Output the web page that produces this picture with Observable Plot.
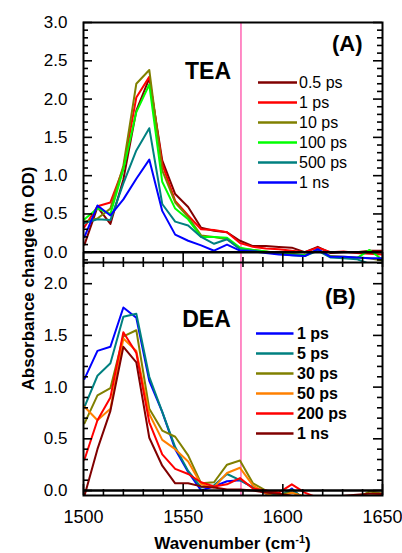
<!DOCTYPE html>
<html><head><meta charset="utf-8">
<script src="https://cdn.jsdelivr.net/npm/d3@7"></script>
<script src="https://cdn.jsdelivr.net/npm/@observablehq/plot@0.6"></script>
<style>
body{margin:0;background:#fff;font-family:"Liberation Sans",Arial,sans-serif;}
#wrap{position:relative;width:402px;height:553px;overflow:hidden;background:#fff;}
#wrap svg{position:absolute;left:0;}
.t{position:absolute;white-space:nowrap;color:#000;font-weight:bold;font-size:17px;line-height:17px;}
</style></head><body><div id="wrap"></div>
<script>
// ---- data ----
const wavenumber = [1500.5, 1507, 1513.5, 1520, 1526.5, 1533, 1539.5, 1546, 1552.5, 1559, 1565.5, 1572,
  1578.5, 1585, 1591.5, 1598, 1604.5, 1611, 1617.5, 1624, 1630.5, 1637, 1643.5, 1650];
const markerWavenumber = [1579];

// Panel A: TEA
const teaDelays = ["0.5 ps", "1 ps", "10 ps", "100 ps", "500 ps", "1 ns"];
const teaColors = ["#800000", "#ff0000", "#808000", "#00ff00", "#008080", "#0000ff"];
const tea_0_5ps = [0.10, 0.59, 0.37, 0.95, 1.85, 2.27, 1.20, 0.76, 0.59, 0.32, 0.28, 0.26, 0.15, 0.08, 0.08, 0.07, 0.06, 0.00, 0.07, -0.01, 0.00, 0.00, 0.02, 0.02];
const tea_1ps   = [0.33, 0.60, 0.65, 1.10, 2.02, 2.29, 1.15, 0.67, 0.48, 0.30, 0.29, 0.26, 0.12, 0.07, 0.05, 0.04, 0.02, 0.00, 0.06, 0.00, 0.01, -0.01, -0.02, -0.03];
const tea_10ps  = [0.40, 0.44, 0.57, 1.13, 2.20, 2.38, 1.07, 0.65, 0.46, 0.22, 0.20, 0.17, 0.05, 0.03, 0.01, -0.01, -0.02, -0.04, 0.03, -0.05, -0.06, -0.07, -0.08, -0.11];
const tea_100ps = [0.43, 0.57, 0.50, 1.08, 1.83, 2.19, 0.92, 0.57, 0.43, 0.20, 0.20, 0.19, 0.06, 0.03, 0.01, -0.02, -0.03, -0.04, 0.03, -0.06, -0.07, -0.08, 0.03, -0.10];
const tea_500ps = [0.38, 0.43, 0.42, 0.90, 1.33, 1.62, 0.63, 0.40, 0.35, 0.20, 0.11, 0.17, 0.04, 0.02, 0.00, -0.02, -0.04, -0.05, 0.02, -0.07, -0.08, -0.09, -0.15, -0.15];
const tea_1ns   = [0.20, 0.61, 0.48, 0.69, 0.96, 1.21, 0.54, 0.23, 0.15, 0.09, 0.02, 0.10, 0.02, 0.01, -0.01, -0.03, -0.04, -0.05, 0.04, -0.06, -0.06, -0.07, -0.08, -0.08];

// Panel B: DEA
const deaDelays = ["1 ps", "5 ps", "30 ps", "50 ps", "200 ps", "1 ns"];
const deaColors = ["#0000ff", "#008080", "#808000", "#ff8000", "#ff0000", "#800000"];
const dea_1ps   = [1.08, 1.35, 1.39, 1.77, 1.67, 1.06, 0.76, 0.40, 0.18, 0.00, 0.04, 0.09, 0.10, 0.03, -0.03, -0.07, 0.02, -0.10, -0.09, -0.09, -0.09, -0.08, -0.06, -0.05];
const dea_5ps   = [0.81, 1.11, 1.23, 1.68, 1.71, 1.10, 0.76, 0.42, 0.19, 0.03, 0.05, 0.16, 0.10, 0.03, -0.02, -0.05, 0.01, -0.08, -0.09, -0.09, -0.08, -0.07, -0.06, -0.08];
const dea_30ps  = [0.65, 0.92, 0.99, 1.49, 1.55, 0.79, 0.58, 0.52, 0.34, 0.07, 0.08, 0.25, 0.29, 0.07, 0.00, -0.04, -0.02, -0.06, -0.09, -0.07, -0.08, -0.07, -0.01, -0.03];
const dea_50ps  = [0.81, 0.68, 0.79, 1.47, 1.35, 0.74, 0.49, 0.40, 0.28, 0.06, 0.03, 0.17, 0.22, 0.05, -0.03, -0.07, -0.02, -0.06, -0.08, -0.07, -0.07, -0.06, -0.05, -0.04];
const dea_200ps = [0.30, 0.68, 0.90, 1.53, 1.33, 0.66, 0.35, 0.21, 0.16, 0.08, 0.04, 0.06, 0.12, 0.02, 0.00, -0.02, 0.06, -0.02, -0.07, -0.08, -0.07, -0.07, -0.06, -0.04];
const dea_1ns   = [-0.05, 0.40, 0.77, 1.39, 1.24, 0.51, 0.24, 0.07, 0.07, 0.04, 0.03, 0.01, 0.01, 0.00, -0.02, -0.03, -0.05, -0.07, -0.07, -0.07, -0.05, -0.04, -0.03, -0.03];

// ticks
const xTicks = [1500, 1550, 1600, 1650];
const xMinorTicks = [1510, 1520, 1530, 1540, 1560, 1570, 1580, 1590, 1610, 1620, 1630, 1640];
const yTicksA = [0, 0.5, 1.0, 1.5, 2.0, 2.5, 3.0];
const yMinorA = [-0.1, 0.1, 0.2, 0.3, 0.4, 0.6, 0.7, 0.8, 0.9, 1.1, 1.2, 1.3, 1.4, 1.6, 1.7, 1.8, 1.9, 2.1, 2.2, 2.3, 2.4, 2.6, 2.7, 2.8, 2.9];
const yTicksB = [0, 0.5, 1.0, 1.5, 2.0];
const yMinorB = [0.1, 0.2, 0.3, 0.4, 0.6, 0.7, 0.8, 0.9, 1.1, 1.2, 1.3, 1.4, 1.6, 1.7, 1.8, 1.9, 2.1, 2.2];

const FONT = '"Liberation Sans", Arial, sans-serif';
const FW = 299; // frame width in px

function panel(opts) {
  const {series, colors, delays, yDomain, height, marginTop, marginBottom, yMajor, yMinor,
         name, tag, nameDx, nameDy, tagDx, tagDy, bottomAxis, legendY0, legendX0, legendX1, legendTX, legendBold} = opts;
  const FH = height - marginTop - marginBottom;
  const tk = {stroke: "#000", strokeWidth: 1.6};
  const marks = [
    Plot.ruleX(markerWavenumber, {x: d => d, stroke: "#ff3fa0", strokeWidth: 1.2}),
    ...series.map((vals, i) => Plot.line(wavenumber, {x: wavenumber, y: vals, stroke: colors[i], strokeWidth: 2, clip: true})),
    Plot.ruleY([0], {stroke: "#000", strokeWidth: 2.6}),
    Plot.frame({stroke: "#000", strokeWidth: 2}),
    Plot.tickY(yMajor, {y: d => d, insetRight: FW - 9, ...tk}),
    Plot.tickY(yMinor, {y: d => d, insetRight: FW - 5, ...tk}),
    Plot.tickY(yMajor, {y: d => d, insetLeft: FW - 9, ...tk}),
    Plot.tickY(yMinor, {y: d => d, insetLeft: FW - 5, ...tk}),
    Plot.axisY({ticks: yMajor, anchor: "left", tickSize: 0, tickPadding: 16, tickFormat: d3.format(".1f"), fontSize: 17, label: null}),
    Plot.text([name], {frameAnchor: "top-left", textAnchor: "middle", lineAnchor: "middle", dx: nameDx, dy: nameDy, fontSize: 23, fontWeight: "bold"}),
    Plot.text([tag], {frameAnchor: "top-right", textAnchor: "end", lineAnchor: "middle", dx: tagDx, dy: tagDy, fontSize: 22, fontWeight: "bold"})
  ];
  if (bottomAxis) {
    marks.push(
      Plot.tickX(xTicks, {x: d => d, insetBottom: FH - 5, ...tk}),
      Plot.tickX(xMinorTicks, {x: d => d, insetBottom: FH - 5, ...tk}),
      Plot.tickX(xTicks, {x: d => d, insetTop: FH - 11, ...tk}),
      Plot.tickX(xMinorTicks, {x: d => d, insetTop: FH - 6, ...tk}),
      Plot.axisX({ticks: xTicks, anchor: "bottom", tickSize: 0, tickPadding: 15, tickFormat: d => String(d), fontSize: 18, label: null})
    );
  } else {
    marks.push(
      Plot.tickX(xTicks, {x: d => d, insetTop: FH - 10, ...tk}),
      Plot.tickX(xMinorTicks, {x: d => d, insetTop: FH - 5, ...tk})
    );
  }
  const svg = Plot.plot({
    width: 402, height, marginLeft: 83, marginRight: 20, marginTop, marginBottom,
    x: {domain: [1500, 1650], axis: null},
    y: {domain: yDomain, axis: null},
    style: {fontFamily: FONT, fontSize: "17px", color: "#000", background: "transparent"},
    marks
  });
  // legend
  const g = d3.select(svg).append("g").attr("font-family", FONT).attr("font-size", 16)
    .attr("text-anchor", "start")
    .attr("font-weight", legendBold ? "bold" : "normal");
  delays.forEach((lab, i) => {
    const y = legendY0 + 20 * i;
    g.append("line").attr("x1", legendX0).attr("x2", legendX1).attr("y1", y).attr("y2", y)
      .attr("stroke", colors[i]).attr("stroke-width", 2.6);
    g.append("text").attr("x", legendTX).attr("y", y).attr("dy", "0.35em")
      .attr("text-anchor", "start").attr("fill", "#000").text(lab);
  });
  return svg;
}

const wrap = document.getElementById("wrap");

const svgA = panel({
  series: [tea_0_5ps, tea_1ps, tea_10ps, tea_100ps, tea_500ps, tea_1ns],
  colors: teaColors, delays: teaDelays,
  yDomain: [-0.134, 3.0], height: 262, marginTop: 22, marginBottom: 0,
  yMajor: yTicksA, yMinor: yMinorA,
  name: "TEA", tag: "(A)", nameDx: 124.5, nameDy: 49, tagDx: -20, tagDy: 21,
  bottomAxis: false, legendY0: 82.5, legendX0: 258, legendX1: 297, legendTX: 299, legendBold: false
});
svgA.style.top = "0px";
wrap.appendChild(svgA);

const svgB = panel({
  series: [dea_1ps, dea_5ps, dea_30ps, dea_50ps, dea_200ps, dea_1ns],
  colors: deaColors, delays: deaDelays,
  yDomain: [-0.048, 2.205], height: 291, marginTop: 0, marginBottom: 58,
  yMajor: yTicksB, yMinor: yMinorB,
  name: "DEA", tag: "(B)", nameDx: 123, nameDy: 57, tagDx: -27, tagDy: 34,
  bottomAxis: true, legendY0: 71.5, legendX0: 256, legendX1: 293.5, legendTX: 297, legendBold: true
});
svgB.style.top = "262px";
wrap.appendChild(svgB);

// axis titles
const xt = document.createElement("div");
xt.className = "t";
xt.style.left = "83px"; xt.style.width = "299px"; xt.style.textAlign = "center"; xt.style.top = "535px";
xt.innerHTML = 'Wavenumber (cm<sup style="font-size:11px;vertical-align:6px;line-height:0">-1</sup>)';
wrap.appendChild(xt);

const yt = document.createElement("div");
yt.className = "t";
yt.style.width = "320px"; yt.style.textAlign = "center";
yt.style.left = (28 - 160) + "px"; yt.style.top = (278 - 8.5) + "px";
yt.style.transform = "rotate(-90deg)";
yt.textContent = "Absorbance change (m OD)";
wrap.appendChild(yt);
</script>
</body></html>
